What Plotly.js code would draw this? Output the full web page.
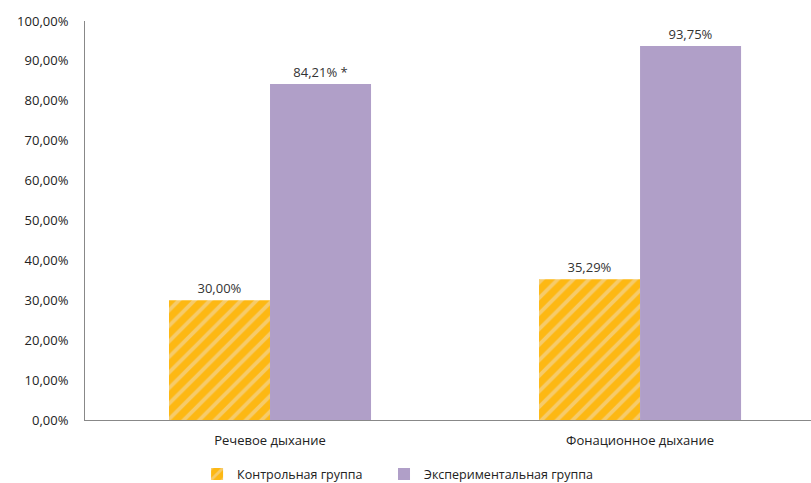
<!DOCTYPE html>
<html><head><meta charset="utf-8">
<script src="https://cdn.plot.ly/plotly-3.0.1.min.js"></script>
<style>body{margin:0;background:#fff}#c{width:811px;height:483px}</style>
</head><body><div id="c"></div>
<script>
const categories = ["Речевое дыхание", "Фонационное дыхание"];
const controlValues = [0.30, 0.3529];
const experimentalValues = [0.8421, 0.9375];
const controlNotes = ["", ""];
const experimentalNotes = [" *", ""];
const seriesNames = ["Контрольная группа", "Экспериментальная группа"];
const yTicks = [0, 0.1, 0.2, 0.3, 0.4, 0.5, 0.6, 0.7, 0.8, 0.9, 1.0];

const fontFam = "Open Sans, Liberation Sans, sans-serif";
const traces = [
  {type: "bar", name: seriesNames[0], x: categories, y: controlValues, customdata: controlNotes,
   legend: "legend",
   texttemplate: "%{y:.2%}%{customdata}", textposition: "outside", cliponaxis: false,
   textfont: {family: fontFam, size: 13, color: "#333"},
   marker: {color: "#FDB813", line: {width: 0},
     pattern: {shape: "/", fgcolor: "#F6CB6A", bgcolor: "#FDB813", size: 11, solidity: 0.35, fillmode: "replace"}},
   hoverinfo: "skip"},
  {type: "bar", name: seriesNames[1], x: categories, y: experimentalValues, customdata: experimentalNotes,
   legend: "legend2",
   texttemplate: "%{y:.2%}%{customdata}", textposition: "outside", cliponaxis: false,
   textfont: {family: fontFam, size: 13, color: "#333"},
   marker: {color: "#B09FC8", line: {width: 0}}, hoverinfo: "skip"}
];
const legendBase = {orientation: "h", xanchor: "left", xref: "container", y: 0.018, yanchor: "middle", yref: "container",
  font: {family: fontFam, size: 12.5, color: "#222"}, itemwidth: 30, bgcolor: "rgba(0,0,0,0)"};
const layout = {
  width: 811, height: 483,
  margin: {l: 85, r: 0, t: 21, b: 63, autoexpand: false},
  separators: ", ",
  barmode: "group", bargap: 0.454, bargroupgap: 0,
  paper_bgcolor: "#fff", plot_bgcolor: "#fff",
  font: {family: fontFam, size: 13, color: "#222"},
  showlegend: true,
  legend: Object.assign({}, legendBase, {x: 0.243}),
  legend2: Object.assign({}, legendBase, {x: 0.4735}),
  xaxis: {type: "category", range: [-0.5, 1.462], showgrid: false, showline: true, linecolor: "#888", linewidth: 1,
    ticks: "", ticklabelstandoff: 8, tickfont: {family: fontFam, size: 13, color: "#222"}, fixedrange: true},
  yaxis: {range: [0, 1.0], tickvals: yTicks, tickformat: ".2%", showgrid: false, zeroline: false,
    showline: true, linecolor: "#888", linewidth: 1, ticks: "", ticklabelstandoff: 13,
    tickfont: {family: fontFam, size: 13, color: "#222"}, fixedrange: true}
};
Plotly.newPlot("c", traces, layout, {displayModeBar: false, staticPlot: true});
</script></body></html>
